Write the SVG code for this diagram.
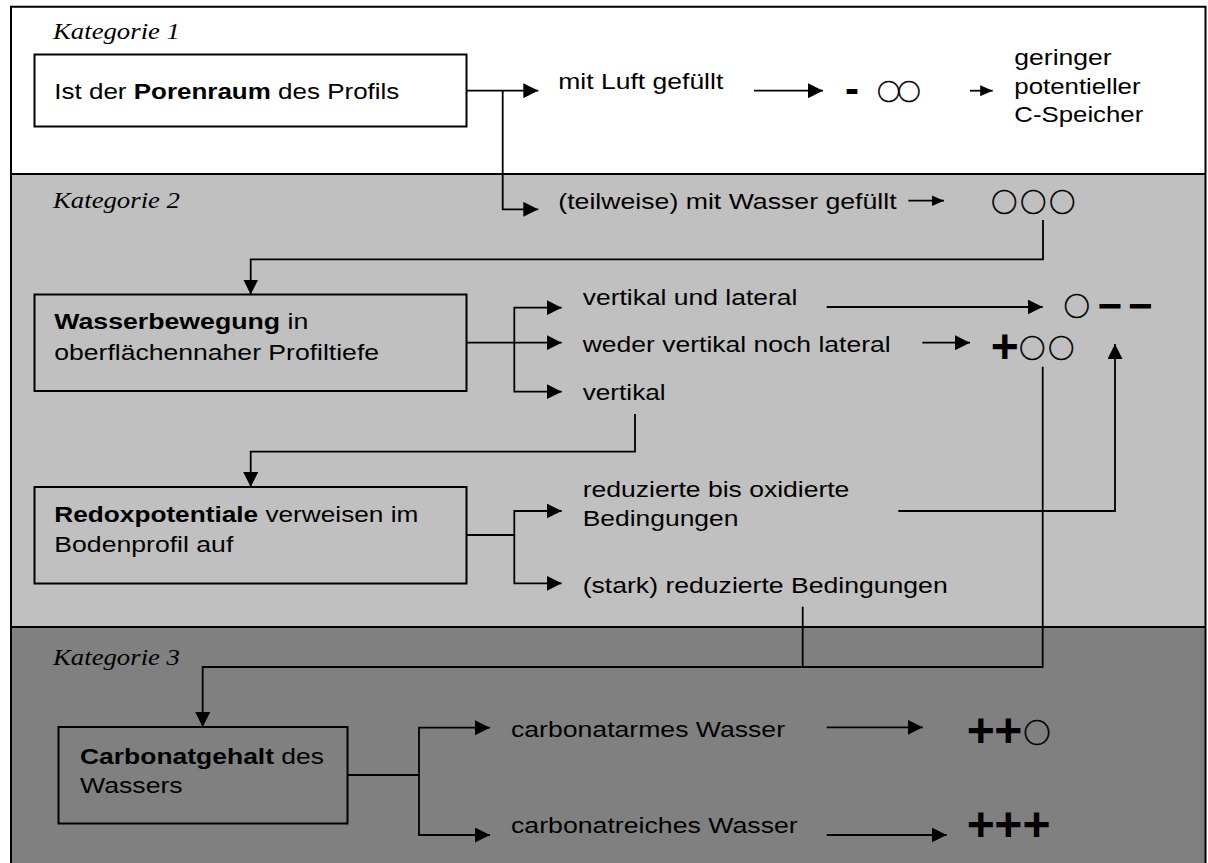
<svg xmlns="http://www.w3.org/2000/svg" width="1208" height="863" viewBox="0 0 1208 863">
<style>
.t{font-family:"Liberation Sans",Arial,sans-serif;font-size:22px;fill:#000}
.b{font-weight:bold}
.k{font-family:"Liberation Serif","Times New Roman",serif;font-style:italic;font-size:23px;fill:#000}
.sym{font-family:"Liberation Sans","DejaVu Sans",sans-serif;text-anchor:middle;dominant-baseline:central;fill:#000}
.o{font-family:"Noto Sans CJK SC","Noto Sans CJK JP","DejaVu Sans",sans-serif;font-size:26px;font-weight:normal;stroke:#000;stroke-width:0.6}
.p{font-size:48px;font-weight:bold}
.m{font-size:42px;font-weight:bold}
.box{fill:none;stroke:#000;stroke-width:2}
.frame{fill:none;stroke:#000;stroke-width:2}
.c{fill:none;stroke:#000;stroke-width:1.8}
.ar{marker-end:url(#ah)}
.as{marker-end:url(#ahs)}
</style>
<defs>
<marker id="ah" markerUnits="userSpaceOnUse" markerWidth="15" markerHeight="15" viewBox="0 0 15 15" refX="15" refY="7.5" orient="auto"><path d="M0,0 L15,7.5 L0,15 Z" fill="#000"/></marker>
<marker id="ahs" markerUnits="userSpaceOnUse" markerWidth="12.5" markerHeight="11" viewBox="0 0 12.5 11" refX="12.5" refY="5.5" orient="auto"><path d="M0,0 L12.5,5.5 L0,11 Z" fill="#000"/></marker>
</defs>
<g id="background">
<rect x="0" y="0" width="1208" height="863" fill="#fff"/>
<rect x="10" y="174" width="1196" height="453" fill="#C0C0C0"/>
<rect x="10" y="627" width="1196" height="240" fill="#808080"/>
<path class="frame" d="M10,6.7 H1205.5 V870 M11,6 V870 M10,174 H1206 M10,627 H1206"/>
</g>
<g id="labels">
<text class="k" transform="translate(53,39) scale(1.165,1)" textLength="109" lengthAdjust="spacingAndGlyphs">Kategorie 1</text>
<text class="k" transform="translate(53,208) scale(1.165,1)" textLength="109" lengthAdjust="spacingAndGlyphs">Kategorie 2</text>
<text class="k" transform="translate(53,665) scale(1.165,1)" textLength="109" lengthAdjust="spacingAndGlyphs">Kategorie 3</text>
</g>
<g id="node-porenraum">
<rect class="box" x="34.5" y="54.5" width="432" height="72"/>
<text class="t" transform="translate(54.3,99) scale(1.18,1)" textLength="292.4" lengthAdjust="spacingAndGlyphs">Ist der <tspan class="b">Porenraum</tspan> des Profils</text>
</g>
<g id="node-luft">
<text class="t" transform="translate(558.3,89) scale(1.18,1)" textLength="139.8" lengthAdjust="spacingAndGlyphs">mit Luft gefüllt</text>
</g>
<g id="node-result-luft">
<text class="sym m" x="852" y="88">-</text>
<text class="sym o" x="888.7 909" y="90" style="font-size:23px">○○</text>
</g>
<g id="node-speicher">
<text class="t" transform="translate(1014.3,65) scale(1.18,1)" textLength="82.5" lengthAdjust="spacingAndGlyphs">geringer</text>
<text class="t" transform="translate(1014.3,93.5) scale(1.18,1)" textLength="107" lengthAdjust="spacingAndGlyphs">potentieller</text>
<text class="t" transform="translate(1014.3,122) scale(1.18,1)" textLength="109.3" lengthAdjust="spacingAndGlyphs">C-Speicher</text>
</g>
<g id="node-wasser">
<text class="t" transform="translate(558.3,209) scale(1.18,1)" textLength="286.7" lengthAdjust="spacingAndGlyphs">(teilweise) mit Wasser gefüllt</text>
</g>
<g id="node-result-wasser">
<text class="sym o" x="1004.3 1033.3 1062.3" y="200.7">○○○</text>
</g>
<g id="node-wasserbewegung">
<rect class="box" x="34.5" y="294.5" width="432" height="96.5"/>
<text class="t" transform="translate(54.3,329) scale(1.18,1)" textLength="215.3" lengthAdjust="spacingAndGlyphs"><tspan class="b">Wasserbewegung</tspan> in</text>
<text class="t" transform="translate(54.3,359.5) scale(1.18,1)" textLength="275.2" lengthAdjust="spacingAndGlyphs">oberflächennaher Profiltiefe</text>
</g>
<g id="node-vertlat">
<text class="t" transform="translate(582.7,304.5) scale(1.18,1)" textLength="181.9" lengthAdjust="spacingAndGlyphs">vertikal und lateral</text>
</g>
<g id="node-weder">
<text class="t" transform="translate(582.7,351.5) scale(1.18,1)" textLength="261" lengthAdjust="spacingAndGlyphs">weder vertikal noch lateral</text>
</g>
<g id="node-vertikal">
<text class="t" transform="translate(582.7,400) scale(1.18,1)" textLength="70.3" lengthAdjust="spacingAndGlyphs">vertikal</text>
</g>
<g id="node-result-vertlat">
<text class="sym o" x="1076.7" y="304.3">○</text>
<text class="sym m" x="1109.7 1140.3" y="305">−−</text>
</g>
<g id="node-result-weder">
<text class="sym p" x="1004.7" y="346">+</text>
<text class="sym o" x="1032.2 1061.2" y="346">○○</text>
</g>
<g id="node-redox">
<rect class="box" x="34.5" y="487" width="432" height="96.5"/>
<text class="t" transform="translate(54.3,522) scale(1.18,1)" textLength="308.5" lengthAdjust="spacingAndGlyphs"><tspan class="b">Redoxpotentiale</tspan> verweisen im</text>
<text class="t" transform="translate(54.3,552) scale(1.18,1)" textLength="151.7" lengthAdjust="spacingAndGlyphs">Bodenprofil auf</text>
</g>
<g id="node-redox-oxid">
<text class="t" transform="translate(582.7,496.5) scale(1.18,1)" textLength="226" lengthAdjust="spacingAndGlyphs">reduzierte bis oxidierte</text>
<text class="t" transform="translate(582.7,526) scale(1.18,1)" textLength="132" lengthAdjust="spacingAndGlyphs">Bedingungen</text>
</g>
<g id="node-redox-red">
<text class="t" transform="translate(582.7,592.5) scale(1.18,1)" textLength="309.3" lengthAdjust="spacingAndGlyphs">(stark) reduzierte Bedingungen</text>
</g>
<g id="node-carbonat">
<rect class="box" x="58.5" y="727" width="289" height="96.5"/>
<text class="t" transform="translate(80,764) scale(1.18,1)" textLength="206.8" lengthAdjust="spacingAndGlyphs"><tspan class="b">Carbonatgehalt</tspan> des</text>
<text class="t" transform="translate(80,793) scale(1.18,1)" textLength="87" lengthAdjust="spacingAndGlyphs">Wassers</text>
</g>
<g id="node-carbonatarm">
<text class="t" transform="translate(511,737) scale(1.18,1)" textLength="232.2" lengthAdjust="spacingAndGlyphs">carbonatarmes Wasser</text>
</g>
<g id="node-carbonatreich">
<text class="t" transform="translate(511,832.5) scale(1.18,1)" textLength="243" lengthAdjust="spacingAndGlyphs">carbonatreiches Wasser</text>
</g>
<g id="node-result-arm">
<text class="sym p" x="980.7 1008.3" y="730.5">++</text>
<text class="sym o" x="1037" y="731" style="font-size:27px">○</text>
</g>
<g id="node-result-reich">
<text class="sym p" x="980.7 1008.3 1036.6" y="824.3">+++</text>
</g>
<g id="connectors">
<path class="c ar" d="M467,90.7 H538.3"/>
<path class="c ar" d="M502.7,90.7 V209.3 H538.3"/>
<path class="c ar" d="M754,90.7 H823"/>
<path class="c as" d="M970,90.7 H992.7"/>
<path class="c as" d="M908.3,200.7 H944"/>
<path class="c ar" d="M1043,220 V259.3 H250.7 V294.5"/>
<path class="c" d="M467,342.7 H514.3"/>
<path class="c ar" d="M514.3,342.7 H561.7"/>
<path class="c ar" d="M514.3,342.7 V307.7 H561.7"/>
<path class="c ar" d="M514.3,342.7 V391.7 H561.7"/>
<path class="c ar" d="M826.7,307 H1042.7"/>
<path class="c ar" d="M922.3,342.7 H970"/>
<path class="c ar" d="M1042.7,366.7 V667 H202.7 V727"/>
<path class="c ar" d="M635,414 V451.7 H250.7 V487"/>
<path class="c" d="M467,535 H514.3"/>
<path class="c ar" d="M514.3,535 V511 H561.7"/>
<path class="c ar" d="M514.3,535 V583.3 H561.7"/>
<path class="c ar" d="M898.3,511 H1115 V344"/>
<path class="c" d="M802.7,606.7 V667"/>
<path class="c" d="M347.3,775 H419"/>
<path class="c ar" d="M419,775 V727.7 H490"/>
<path class="c ar" d="M419,775 V835 H490"/>
<path class="c ar" d="M826.7,727.3 H922.7"/>
<path class="c ar" d="M826.7,835 H946.7"/>
</g>
</svg>
